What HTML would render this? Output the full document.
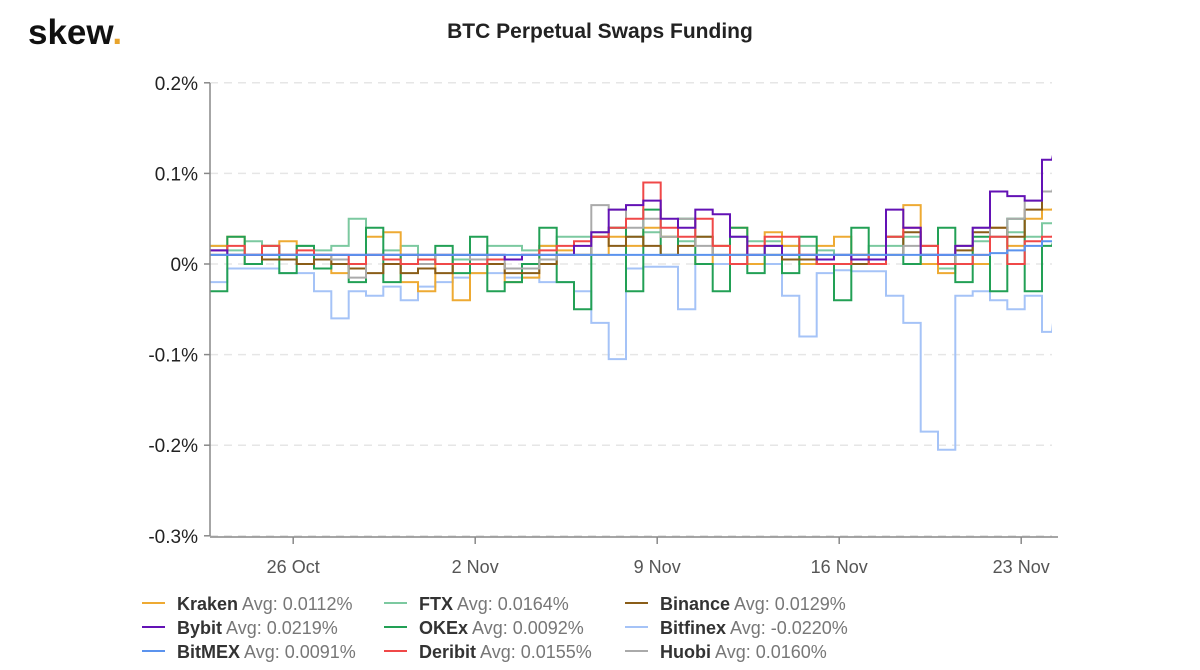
<!DOCTYPE html>
<html><head><meta charset="utf-8"><style>
body{margin:0;background:#fff;width:1200px;height:670px;overflow:hidden;font-family:"Liberation Sans",sans-serif}
svg{display:block}
</style></head><body>
<svg id="chart" width="1200" height="670">
<text x="28" y="44" font-size="35" font-weight="bold" fill="#111">skew<tspan fill="#e8a42c">.</tspan></text>
<text x="600" y="38" text-anchor="middle" font-size="21" font-weight="bold" fill="#222">BTC Perpetual Swaps Funding</text>
<g id="grid"></g><g id="series"></g><g id="axes"></g><g id="legend"></g>
</svg>
<script>
const yTicks=[0.2,0.1,0,-0.1,-0.2,-0.3];
const yTickLabels=["0.2%","0.1%","0%","-0.1%","-0.2%","-0.3%"];
const xTickLabels=["26 Oct","2 Nov","9 Nov","16 Nov","23 Nov"];
const xTickDays=[3.2,10.2,17.2,24.2,31.2];
const seriesNames=["Kraken","FTX","Binance","Bybit","OKEx","Bitfinex","BitMEX","Deribit","Huobi"];
const seriesAvgs=["0.0112%","0.0164%","0.0129%","0.0219%","0.0092%","-0.0220%","0.0091%","0.0155%","0.0160%"];
const kraken=[0.02,0.03,0.0,0.02,0.025,0.0,0.01,-0.01,0.0,0.03,0.035,-0.02,-0.03,0.01,-0.04,-0.01,0.0,-0.02,-0.015,0.02,0.015,0.01,0.01,0.03,0.02,0.04,0.03,0.01,0.0,0.02,0.04,0.0,0.035,0.02,0.0,0.02,0.03,0.01,0.0,0.03,0.065,0.0,-0.01,0.02,0.0,0.04,0.02,0.05,0.06,0.07];
const ftx=[0.02,0.015,0.025,0.02,0.01,0.02,0.015,0.02,0.05,0.01,0.015,0.02,0.01,0.0,0.005,0.01,0.02,0.02,0.015,0.02,0.03,0.03,0.035,0.04,0.03,0.035,0.03,0.025,0.03,0.02,0.03,0.025,0.025,0.02,0.02,0.015,0.01,0.01,0.02,0.02,0.03,0.0,-0.005,0.02,0.025,0.03,0.035,0.03,0.045,0.05];
const binance=[0.01,0.01,0.01,0.005,0.005,0.0,0.005,0.0,-0.005,-0.01,0.0,-0.01,-0.005,-0.01,0.0,0.0,0.0,-0.01,-0.01,0.0,0.01,0.01,0.03,0.02,0.03,0.02,0.01,0.02,0.03,0.01,0.01,0.01,0.01,0.005,0.005,0.0,0.0,0.0,0.0,0.01,0.035,0.02,0.0,0.015,0.035,0.04,0.03,0.06,0.08,0.09];
const bybit=[0.015,0.01,0.01,0.01,0.01,0.01,0.01,0.01,0.01,0.01,0.01,0.01,0.01,0.01,0.01,0.01,0.01,0.005,0.01,0.01,0.01,0.02,0.035,0.06,0.065,0.07,0.05,0.04,0.06,0.055,0.03,0.01,0.02,0.01,0.01,0.005,0.01,0.005,0.005,0.06,0.04,0.01,0.01,0.02,0.04,0.08,0.075,0.07,0.115,0.155];
const okex=[-0.03,0.03,0.0,0.02,-0.01,0.02,-0.005,0.0,-0.02,0.04,-0.02,0.01,0.0,0.02,-0.01,0.03,-0.03,-0.02,0.0,0.04,-0.02,-0.05,0.03,0.04,-0.03,0.06,0.01,0.05,0.0,-0.03,0.04,-0.01,0.02,-0.01,0.03,0.0,-0.04,0.04,0.0,0.03,0.0,0.01,0.04,-0.02,0.03,-0.03,0.05,-0.03,0.02,0.05];
const bitfinex=[-0.02,-0.005,-0.005,-0.005,-0.01,-0.01,-0.03,-0.06,-0.03,-0.035,-0.025,-0.04,-0.025,-0.02,-0.015,-0.01,-0.01,-0.015,-0.015,-0.02,-0.02,-0.03,-0.065,-0.105,-0.005,-0.003,-0.003,-0.05,0.0,0.0,0.0,0.0,0.0,-0.035,-0.08,-0.01,-0.007,-0.008,-0.008,-0.035,-0.065,-0.185,-0.205,-0.035,-0.03,-0.04,-0.05,-0.035,-0.075,-0.003];
const bitmex=[0.01,0.01,0.01,0.01,0.01,0.01,0.01,0.01,0.01,0.01,0.01,0.01,0.01,0.01,0.01,0.01,0.01,0.01,0.01,0.01,0.01,0.01,0.01,0.01,0.01,0.01,0.01,0.01,0.01,0.01,0.01,0.01,0.01,0.01,0.01,0.01,0.01,0.01,0.01,0.01,0.01,0.01,0.01,0.01,0.01,0.012,0.015,0.02,0.025,0.03];
const deribit=[0.015,0.02,0.01,0.02,0.01,0.015,0.01,0.01,0.0,0.01,0.005,0.0,0.005,0.0,0.0,0.0,0.005,0.005,0.01,0.015,0.02,0.025,0.03,0.04,0.05,0.09,0.04,0.03,0.05,0.02,0.0,0.02,0.03,0.03,0.01,0.0,0.0,0.01,0.0,0.03,0.04,0.02,0.0,0.0,0.01,0.03,0.0,0.025,0.03,0.04];
const huobi=[0.01,0.01,0.01,0.01,0.01,0.01,0.01,0.005,-0.015,0.01,0.01,0.01,0.0,0.01,0.01,0.005,0.01,-0.005,-0.005,0.005,0.01,0.01,0.065,0.06,0.04,0.05,0.03,0.05,0.02,0.01,0.01,0.01,0.01,0.01,0.01,0.01,0.01,0.01,0.01,0.01,0.02,0.01,0.0,0.02,0.04,0.03,0.05,0.07,0.08,0.1];

const NS="http://www.w3.org/2000/svg";
const L=210,R=1052,T=83,B=536;
const yS=v=>264-v*906;
const xDay=d=>L+d*26;
const xIdx=i=>L+i*(2/3)*26;
function mk(tag,attrs,parent){const e=document.createElementNS(NS,tag);for(const k in attrs)e.setAttribute(k,attrs[k]);parent.appendChild(e);return e;}
const grid=document.getElementById('grid'),axes=document.getElementById('axes'),ser=document.getElementById('series'),leg=document.getElementById('legend');
yTicks.forEach((v,i)=>{
  const y=yS(v);
  const g=mk('line',{x1:L,x2:R,y1:y,y2:y,stroke:'#e6e6e6','stroke-width':1.5,'stroke-dasharray':'8,6'},grid);
  
  
  const tk=mk('line',{x1:L-6,x2:L,y1:y,y2:y,stroke:'#888','stroke-width':1.5},axes);
  
  
  const t=mk('text',{x:L-12,y:y+7,'text-anchor':'end','font-size':19,fill:'#222'},axes);
  t.textContent=yTickLabels[i];
  
  
});
const ya=mk('line',{x1:L,x2:L,y1:T,y2:B,stroke:'#888','stroke-width':1.5},axes);


const xa=mk('line',{x1:L,x2:1058,y1:B+1,y2:B+1,stroke:'#888','stroke-width':1.5},axes);


xTickDays.forEach((d,i)=>{
  const x=xDay(d);
  const tk=mk('line',{x1:x,x2:x,y1:B+1,y2:B+8,stroke:'#888','stroke-width':1.5},axes);
  
  
  const t=mk('text',{x:x,y:573,'text-anchor':'middle','font-size':18,fill:'#555'},axes);
  t.textContent=xTickLabels[i];
  
  
});
const colors=["#eeaa33","#7cc9a0","#8a5d18","#6312b5","#22a055","#a5c3f7","#5b93ee","#f04848","#aaaaaa"];
const data=[kraken,ftx,binance,bybit,okex,bitfinex,bitmex,deribit,huobi];
const order=[5,1,0,4,2,8,7,3,6];
const cp=mk('clipPath',{id:'clip'},ser);
mk('rect',{x:L,y:0,width:R-L,height:670},cp);
order.forEach(si=>{
  const vals=data[si];let d='';
  vals.forEach((v,i)=>{const x0=xIdx(i),x1=Math.min(xIdx(i+1),R),y=yS(v);d+=(i===0?'M':'L')+x0.toFixed(1)+','+y.toFixed(1)+'L'+x1.toFixed(1)+','+y.toFixed(1);});
  const p=mk('path',{d:d,fill:'none',stroke:colors[si],'stroke-width':2,'clip-path':'url(#clip)'},ser);
  
  
});
const colX=[142,384,625],rowY=[603,627,651];
seriesNames.forEach((n,i)=>{
  const cx=colX[i%3],cy=rowY[Math.floor(i/3)];
  const g=mk('g',{},leg);
  
  
  mk('line',{x1:cx,x2:cx+23,y1:cy,y2:cy,stroke:colors[i],'stroke-width':2},g);
  const t=mk('text',{x:cx+35,y:cy+7,'font-size':18},g);
  const a=mk('tspan',{fill:'#333','font-weight':'bold'},t);a.textContent=n;
  const b=mk('tspan',{fill:'#777'},t);b.textContent=' Avg: '+seriesAvgs[i];
});
</script>
</body></html>
